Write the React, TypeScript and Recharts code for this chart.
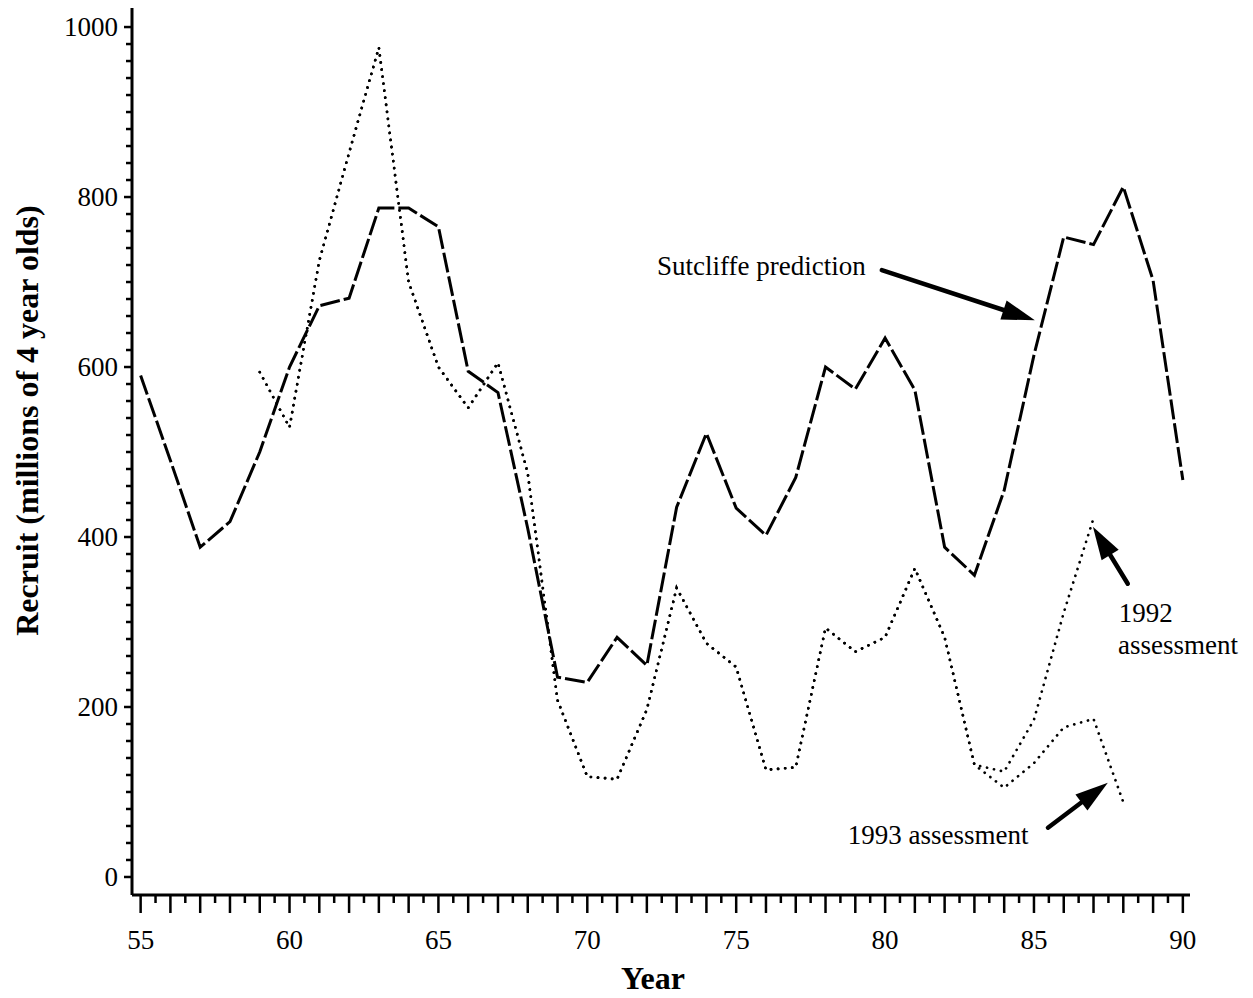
import React from 'react';
import { LineChart, Line, XAxis, YAxis, ReferenceLine, ReferenceDot, Label } from 'recharts';

// Year of recruitment (19xx)
const years = [
  55, 56, 57, 58, 59, 60, 61, 62, 63, 64, 65, 66, 67, 68, 69, 70, 71, 72,
  73, 74, 75, 76, 77, 78, 79, 80, 81, 82, 83, 84, 85, 86, 87, 88, 89, 90,
];

// Recruits, millions of 4 year olds
const sutcliffe = [
  590, 490, 388, 418, 500, 600, 672, 681, 787, 787, 765, 595, 570, 410, 235, 229, 282, 249,
  435, 522, 434, 402, 470, 600, 574, 634, 573, 388, 355, 455, 614, 753, 744, 812, 702, 467,
];

const assess1992 = [
  null, null, null, null, 594, 529, 725, 852, 976, 700, 600, 552, 605, 475, 208, 118, 115, 197,
  340, 275, 247, 126, 129, 293, 265, 282, 363, 282, 132, 124, 185, 311, 422, null, null, null,
];

const assess1993 = [
  null, null, null, null, 594, 529, 725, 852, 976, 700, 600, 552, 605, 475, 208, 118, 115, 197,
  340, 275, 247, 126, 129, 293, 265, 282, 363, 282, 132, 105, 134, 176, 186, 88, null, null,
];

const xTicks = Array.from({ length: 71 }, (_, i) => 55 + i * 0.5);
const yTicks = Array.from({ length: 51 }, (_, i) => i * 20);

const data = years.map((year, i) => ({
  year,
  sutcliffe: sutcliffe[i],
  a1992: assess1992[i],
  a1993: assess1993[i],
}));

const FONT = '"Liberation Serif", "Times New Roman", serif';

const XTick = ({ x, y, payload }: any) => {
  const v = payload.value;
  const major = Number.isInteger(v);
  return (
    <g>
      <line x1={x} x2={x} y1={y} y2={y + (major ? 18 : 8)} stroke="#000" strokeWidth={2.5} />
      {major && v % 5 === 0 && (
        <text x={x} y={y + 54} textAnchor="middle" fontFamily={FONT} fontSize={27} fill="#000">
          {v}
        </text>
      )}
    </g>
  );
};

const YTick = ({ x, y, payload }: any) => {
  const v = payload.value;
  const major = v % 200 === 0;
  return (
    <g>
      <line x1={x - (major ? 8 : 6)} x2={x} y1={y} y2={y} stroke="#000" strokeWidth={2.5} />
      {major && (
        <text x={x - 14} y={y + 9} textAnchor="end" fontFamily={FONT} fontSize={27} fill="#000">
          {v}
        </text>
      )}
    </g>
  );
};

const Arrow = (p: any) => {
  const { x1, y1, x2, y2 } = p;
  const dx = x2 - x1;
  const dy = y2 - y1;
  const len = Math.hypot(dx, dy) || 1;
  const ux = dx / len;
  const uy = dy / len;
  const hl = 33;
  const hw = 10;
  const bx = x2 - ux * hl;
  const by = y2 - uy * hl;
  return (
    <g>
      <line x1={x1} y1={y1} x2={bx + ux * 4} y2={by + uy * 4} stroke="#000" strokeWidth={4.5} strokeLinecap="round" />
      <polygon
        points={`${x2},${y2} ${bx - uy * hw},${by + ux * hw} ${bx + uy * hw},${by - ux * hw}`}
        fill="#000"
      />
    </g>
  );
};

const note = (text: string) => (props: any) => {
  const { x, y } = props.viewBox;
  return (
    <text x={x} y={y} dy={9} textAnchor="start" fontFamily={FONT} fontSize={27} fill="#000">
      {text}
    </text>
  );
};

const YTitle = (props: any) => {
  const { x, y, height } = props.viewBox;
  const cx = x + 27;
  const cy = y + height / 2 - 31;
  return (
    <text
      x={cx}
      y={cy}
      transform={`rotate(-90, ${cx}, ${cy})`}
      textAnchor="middle"
      dominantBaseline="central"
      fontFamily={FONT}
      fontWeight="bold"
      fontSize={32}
      fill="#000"
    >
      Recruit (millions of 4 year olds)
    </text>
  );
};

const XTitle = (props: any) => {
  const { x, y, width } = props.viewBox;
  return (
    <text
      x={x + width / 2 - 8}
      y={y + 94}
      textAnchor="middle"
      fontFamily={FONT}
      fontWeight="bold"
      fontSize={32}
      fill="#000"
    >
      Year
    </text>
  );
};

export default function App() {
  return (
    <div style={{ position: 'absolute', left: 0, top: 0, background: '#fff' }}>
      <LineChart width={1253} height={998} data={data} margin={{ top: 8, right: 63, left: 0, bottom: 0 }}>
        <XAxis
          dataKey="year"
          type="number"
          domain={[54.71, 90.24]}
          allowDataOverflow
          ticks={xTicks}
          interval={0}
          tick={<XTick />}
          tickLine={false}
          tickSize={0}
          tickMargin={0}
          height={103}
          axisLine={{ stroke: '#000', strokeWidth: 3 }}
        >
          <Label content={XTitle} />
        </XAxis>
        <YAxis
          type="number"
          domain={[-21.2, 1022.4]}
          allowDataOverflow
          ticks={yTicks}
          interval={0}
          tick={<YTick />}
          tickLine={false}
          tickSize={0}
          tickMargin={0}
          width={132}
          axisLine={{ stroke: '#000', strokeWidth: 3 }}
        >
          <Label content={YTitle} />
        </YAxis>

        <Line
          type="linear"
          dataKey="sutcliffe"
          stroke="#000"
          strokeWidth={3}
          strokeDasharray="20 4"
          dot={false}
          isAnimationActive={false}
        />
        <Line
          type="linear"
          dataKey="a1992"
          stroke="#000"
          strokeWidth={2.7}
          strokeDasharray="0.1 7"
          strokeLinecap="round"
          dot={false}
          isAnimationActive={false}
        />
        <Line
          type="linear"
          dataKey="a1993"
          stroke="#000"
          strokeWidth={2.7}
          strokeDasharray="0.1 7"
          strokeLinecap="round"
          dot={false}
          isAnimationActive={false}
        />

        <ReferenceLine segment={[{ x: 79.89, y: 714 }, { x: 85.03, y: 655 }]} shape={Arrow} />
        <ReferenceLine segment={[{ x: 88.15, y: 345 }, { x: 86.98, y: 412 }]} shape={Arrow} />
        <ReferenceLine segment={[{ x: 85.47, y: 58 }, { x: 87.48, y: 111 }]} shape={Arrow} />

        <ReferenceDot x={72.34} y={719} r={0} fill="none" stroke="none" label={note('Sutcliffe prediction')} />
        <ReferenceDot x={87.85} y={311} r={0} fill="none" stroke="none" label={note('1992')} />
        <ReferenceDot x={87.82} y={273} r={0} fill="none" stroke="none" label={note('assessment')} />
        <ReferenceDot x={78.75} y={49} r={0} fill="none" stroke="none" label={note('1993 assessment')} />
      </LineChart>
    </div>
  );
}
